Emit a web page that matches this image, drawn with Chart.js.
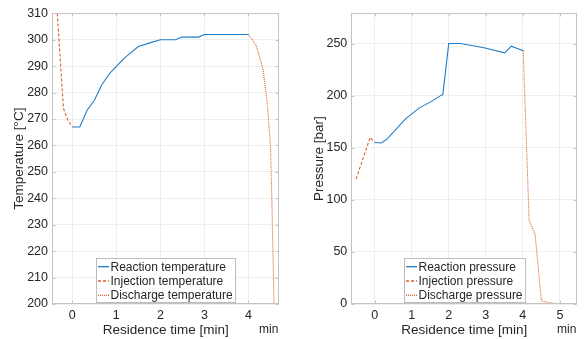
<!DOCTYPE html>
<html>
<head>
<meta charset="utf-8">
<script src="https://cdn.jsdelivr.net/npm/chart.js@4.4.1/dist/chart.umd.min.js"></script>
<style>
  html, body { margin: 0; padding: 0; background: #fff; }
  #wrap { position: relative; width: 588px; height: 339px; }
  .panel { position: absolute; top: 0; width: 294px; height: 339px; }
</style>
</head>
<body>
<div id="wrap">
  <div class="panel" style="left:0"><canvas id="tempChart" width="294" height="339"></canvas></div>
  <div class="panel" style="left:294px"><canvas id="pressChart" width="294" height="339"></canvas></div>
</div>
<script>
// ---- temperature panel data ----
const injTempTime = [-0.4, -0.2, -0.1, 0];
const injTemp = [325, 274, 269.5, 267];
const reactTempTime = [0, 0.17, 0.34, 0.5, 0.67, 0.86, 1.2, 1.5, 1.8, 2.0, 2.34, 2.49, 2.86, 3.0, 4.0];
const reactTemp = [267, 267, 273.4, 277, 283, 287.5, 293.3, 297.4, 299, 300, 300, 301, 301, 302, 302];
const dischTempTime = [4.0, 4.17, 4.33, 4.42, 4.5, 4.53, 4.58];
const dischTemp = [302, 298, 289, 277, 260, 240, 200];
const tempTicks = [200, 210, 220, 230, 240, 250, 260, 270, 280, 290, 300, 310];
const tempTimeTicks = [0, 1, 2, 3, 4];

// ---- pressure panel data ----
const injPressTime = [-0.5, -0.12, 0];
const injPress = [120, 160, 155];
const reactPressTime = [0, 0.18, 0.34, 0.84, 1.2, 1.51, 1.78, 1.84, 2.0, 2.32, 2.95, 3.51, 3.69, 4.01];
const reactPress = [155, 154.5, 158.5, 178, 188, 194, 200, 201, 250, 250, 246, 241, 247.5, 243];
const dischPressTime = [4.01, 4.17, 4.33, 4.5, 4.75, 5.0, 5.3];
const dischPress = [243, 80, 67, 3, 1, 0, 0];
const pressTicks = [0, 50, 100, 150, 200, 250];
const pressTimeTicks = [0, 1, 2, 3, 4, 5];

const xTitle = 'Residence time [min]';
const unitLabel = 'min';

const BLUE = 'rgb(30,125,200)';
const ORANGE = 'rgb(222,95,45)';
const BOX = '#c4c4c4';
const GRID = '#eeeeee';
const FONT = "'Liberation Sans', Arial, Helvetica, sans-serif";

Chart.defaults.font.family = FONT;
Chart.defaults.color = '#262626';

const pts = (xs, ys) => xs.map((x, i) => ({ x: x, y: ys[i] }));

// box, inward ticks, legend and unit label drawn after the datasets
const matlabBox = {
    id: 'matlabBox',
    afterDraw(chart) {
        const { ctx, chartArea: a, scales } = chart;
        const L = Math.round(a.left) + 0.5, R = Math.round(a.right) - 0.5;
        const T = Math.round(a.top) + 0.5, B = Math.round(a.bottom) - 0.5;
        ctx.save();
        ctx.strokeStyle = BOX;
        ctx.lineWidth = 1;
        ctx.beginPath();
        scales.x.ticks.forEach(t => {
            const px = Math.round(scales.x.getPixelForValue(t.value)) + 0.5;
            ctx.moveTo(px, B); ctx.lineTo(px, B - 3);
            ctx.moveTo(px, T); ctx.lineTo(px, T + 3);
        });
        scales.y.ticks.forEach(t => {
            const py = Math.round(scales.y.getPixelForValue(t.value)) + 0.5;
            ctx.moveTo(L, py); ctx.lineTo(L + 3, py);
            ctx.moveTo(R, py); ctx.lineTo(R - 3, py);
        });
        ctx.stroke();
        ctx.strokeRect(L, T, R - L, B - T);

        // legend, MATLAB 'south'
        ctx.font = '12px ' + FONT;
        const sets = chart.data.datasets;
        const maxW = Math.max(...sets.map(d => ctx.measureText(d.label).width));
        const w = 14 + maxW + 3, h = 44;
        const lx = Math.round((a.left + a.right) / 2 - w / 2) + 0.5;
        const ly = Math.round(a.bottom - 2.5 - h) + 0.5;
        ctx.fillStyle = '#fff';
        ctx.fillRect(lx, ly, w, h);
        ctx.strokeStyle = '#bdbdbd';
        ctx.strokeRect(lx, ly, w, h);
        sets.forEach((d, i) => {
            const cy = ly + 8.2 + i * 14.3;
            ctx.save();
            ctx.strokeStyle = d.borderColor;
            ctx.lineWidth = 1.3;
            ctx.setLineDash(d.borderDash || []);
            ctx.beginPath();
            ctx.moveTo(lx + 1.5, cy); ctx.lineTo(lx + 12.5, cy);
            ctx.stroke();
            ctx.restore();
            ctx.fillStyle = '#262626';
            ctx.textBaseline = 'middle';
            ctx.textAlign = 'left';
            ctx.fillText(d.label, lx + 14, cy + 0.5);
        });

        // unit label under the right end of the x axis
        ctx.font = '12px ' + FONT;
        ctx.fillStyle = '#262626';
        ctx.textAlign = 'right';
        ctx.textBaseline = 'middle';
        ctx.fillText(unitLabel, a.right - 1, 330);
        ctx.restore();
    }
};

function makeChart(id, o) {
    return new Chart(document.getElementById(id), {
        type: 'line',
        data: {
            datasets: [
                { label: o.labels[0], data: o.react, borderColor: BLUE, borderWidth: 1.1 },
                { label: o.labels[1], data: o.inj, borderColor: ORANGE, borderWidth: 1.1, borderDash: [3, 2] },
                { label: o.labels[2], data: o.disch, borderColor: ORANGE, borderWidth: 1.1, borderDash: [1, 1] }
            ]
        },
        options: {
            responsive: false,
            animation: false,
            devicePixelRatio: 1,
            elements: { point: { radius: 0 }, line: { tension: 0, fill: false } },
            layout: { padding: { left: 0, top: 13.3, right: o.padRight, bottom: 0 } },
            plugins: { legend: { display: false }, tooltip: { enabled: false } },
            scales: {
                x: {
                    type: 'linear',
                    min: o.xMin, max: o.xMax,
                    afterBuildTicks: s => { s.ticks = o.xTicks.map(v => ({ value: v })); },
                    afterFit: s => { s.height = 35; },
                    grid: { color: GRID, drawTicks: false },
                    border: { display: false },
                    ticks: { padding: 4, font: { size: 12.5 }, maxRotation: 0 },
                    title: { display: true, text: xTitle, font: { size: 13.5 }, padding: { top: 0, bottom: 1 } }
                },
                y: {
                    type: 'linear',
                    min: o.yMin, max: o.yMax,
                    afterBuildTicks: s => { s.ticks = o.yTicks.map(v => ({ value: v })); },
                    afterFit: s => { s.width = o.yWidth; },
                    grid: { color: GRID, drawTicks: false },
                    border: { display: false },
                    ticks: { padding: 4, font: { size: 12.5 } },
                    title: { display: true, text: o.yTitle, font: { size: 13.5 }, padding: { top: o.yTitlePad, bottom: 0 } }
                }
            }
        },
        plugins: [matlabBox]
    });
}

makeChart('tempChart', {
    labels: ['Reaction temperature', 'Injection temperature', 'Discharge temperature'],
    react: pts(reactTempTime, reactTemp),
    inj: pts(injTempTime, injTemp),
    disch: pts(dischTempTime, dischTemp),
    xMin: -0.46, xMax: 4.7, xTicks: tempTimeTicks,
    yMin: 200, yMax: 310, yTicks: tempTicks,
    yTitle: 'Temperature [°C]', yTitlePad: 11,
    yWidth: 52, padRight: 14.7
});

makeChart('pressChart', {
    labels: ['Reaction pressure', 'Injection pressure', 'Discharge pressure'],
    react: pts(reactPressTime, reactPress),
    inj: pts(injPressTime, injPress),
    disch: pts(dischPressTime, dischPress),
    xMin: -0.63, xMax: 5.47, xTicks: pressTimeTicks,
    yMin: 0, yMax: 279, yTicks: pressTicks,
    yTitle: 'Pressure [bar]', yTitlePad: 17,
    yWidth: 57.3, padRight: 10.7
});
</script>
</body>
</html>
